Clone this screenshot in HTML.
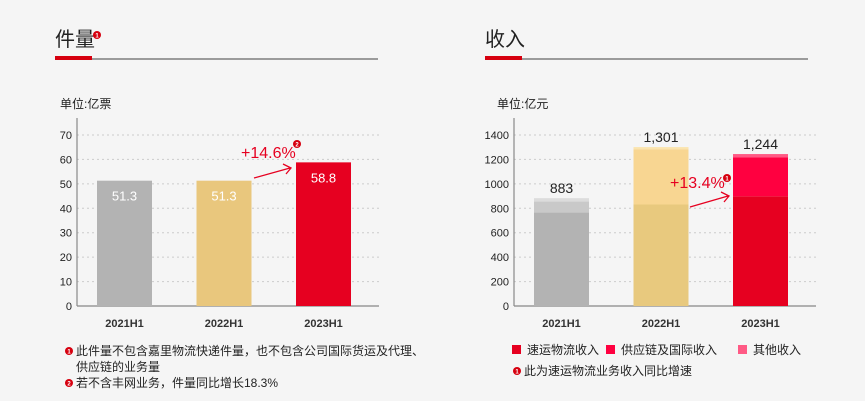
<!DOCTYPE html>
<html><head><meta charset="utf-8"><style>
body{margin:0;background:#fff;font-family:"Liberation Sans","Noto Sans CJK SC",sans-serif;}
#wrap{position:relative;width:865px;height:401px;background:#f5f5f5;overflow:hidden}
.t{position:absolute;white-space:nowrap}
</style></head><body>
<div id="wrap">
<svg id="svg" width="865" height="401" style="position:absolute;left:0;top:0"></svg>
</div>
<script>
const volCats=["2021H1","2022H1","2023H1"];
const volVals=[51.3,51.3,58.8];
const volTicks=[0,10,20,30,40,50,60,70];
const revCats=["2021H1","2022H1","2023H1"];
const revExpress=[765,831,898];
const revSupply=[90,453,320];
const revOther=[28,17,26];
const revTotals=["883","1,301","1,244"];
const revTicks=[0,200,400,600,800,1000,1200,1400];
const NS="http://www.w3.org/2000/svg";
const svg=document.getElementById('svg');
function mk(tag,a,txt){const e=document.createElementNS(NS,tag);for(const k in a)e.setAttribute(k,a[k]);if(txt!==undefined)e.textContent=txt;svg.appendChild(e);return e;}
const F='"Liberation Sans","Noto Sans CJK SC",sans-serif';
function header(x,label,n){
 let e=mk('text',{x:x,y:46,'font-size':20,fill:'#222','font-family':F},label);
 
 e=mk('line',{x1:x,y1:59,x2:x+323,y2:59,stroke:'#666','stroke-width':1.3});
 
 e=mk('rect',{x:x,y:56,width:37,height:4,fill:'#d6000f'});
 
}
function badge(cx,cy,n,name){const c=mk('circle',{cx:cx,cy:cy,r:4,fill:'#d6000f'});
 mk('text',{x:cx,y:cy+2.5,'font-size':6,fill:'#fff','text-anchor':'middle','font-weight':'bold','font-family':F},n);}
header(55,'件量','volume');badge(97,35,'1','volume-footnote-badge');
header(485,'收入','revenue');
function axes(ax,ticks,max,unit,n,cats,barX){
 const y0=306,yTop=135,sc=v=>y0-(y0-yTop)*v/max;
 let e=mk('text',{x:ax-17,y:108,'font-size':12,fill:'#222','font-family':F},unit);
 
 ticks.forEach(t=>{const y=sc(t);
  if(t>0){const g=mk('line',{x1:ax,y1:y,x2:ax+302,y2:y,stroke:'#ccc','stroke-dasharray':'2,3'});}
  const l=mk('text',{x:ax-5,y:y+4,'font-size':11,fill:'#222','text-anchor':'end','font-family':F},t);
  });
 e=mk('line',{x1:ax,y1:118,x2:ax,y2:y0,stroke:'#888','stroke-width':1.2});
 e=mk('line',{x1:ax,y1:y0,x2:ax+302,y2:y0,stroke:'#888','stroke-width':1.2});
 cats.forEach((c,i)=>{const l=mk('text',{x:barX(i)+27.5,y:327,'font-size':11,'font-weight':'bold',fill:'#333','text-anchor':'middle','font-family':F},c);
  });
 return sc;
}
// volume chart
const vx=i=>97+i*99.5;
const vs=axes(77,volTicks,70,'单位:亿票','volume',volCats,vx);
const vcol=['#b3b3b3','#e9c77d','#e60020'];
volVals.forEach((v,i)=>{const y=vs(v);
 const r=mk('rect',{x:vx(i),y:y,width:55,height:306-y,fill:vcol[i]});
 
 const t=mk('text',{x:vx(i)+27.5,y:y+20,'font-size':13,fill:'#fff','text-anchor':'middle','font-family':F},v.toFixed(1));
 });
let e=mk('text',{x:241,y:158,'font-size':16,fill:'#e60020','font-family':F},'+14.6%');

badge(297,144,'2','volume-growth-badge');
e=mk('path',{d:'M254,178 L290,168 M283,164 L291,168 L286,174',stroke:'#e60020','stroke-width':1.3,fill:'none'});

// revenue chart
const rx=i=>534+i*99.5;
const rs=axes(514,revTicks,1400,'单位:亿元','revenue',revCats,rx);
const cols=[['#b3b3b3','#c9c9c9','#dcdcdc'],['#e8c97e','#f8d692','#fbe4ae'],['#e60020','#ff0040','#ff5a85']];
revCats.forEach((c,i)=>{let base=0;
 [revExpress[i],revSupply[i],revOther[i]].forEach((v,k)=>{const y1=rs(base),y2=rs(base+v);
  const r=mk('rect',{x:rx(i),y:y2,width:55,height:y1-y2,fill:cols[i][k]});
  
  base+=v;});
 const t=mk('text',{x:rx(i)+27.5,y:rs(base)-5,'font-size':14,fill:'#222','text-anchor':'middle','font-family':F},revTotals[i]);
 });
e=mk('text',{x:670,y:188,'font-size':16,fill:'#e60020','font-family':F},'+13.4%');

badge(727,178,'1','revenue-growth-badge');
e=mk('path',{d:'M690,207 L728,196 M721,192 L729,196 L724,202',stroke:'#e60020','stroke-width':1.3,fill:'none'});

// legend
[['速运物流收入',512,'#e60020'],['供应链及国际收入',606,'#ff0040'],['其他收入',738,'#ff5a85']].forEach(([l,x,c])=>{
 const r=mk('rect',{x:x,y:345,width:9,height:9,fill:c});
 const t=mk('text',{x:x+15,y:354,'font-size':12,fill:'#222','font-family':F},l);});
badge(517,371,'1','revenue-footnote-badge');
e=mk('text',{x:524,y:375,'font-size':12,fill:'#222','font-family':F},'此为速运物流业务收入同比增速');
// left footnotes
badge(69,351,'1','volume-footnote-1-badge');
e=mk('text',{x:76,y:355,'font-size':12,fill:'#222','font-family':F},'此件量不包含嘉里物流快递件量，也不包含公司国际货运及代理、');
e=mk('text',{x:76,y:371,'font-size':12,fill:'#222','font-family':F},'供应链的业务量');
badge(69,383,'2','volume-footnote-2-badge');
e=mk('text',{x:76,y:387,'font-size':12,fill:'#222','font-family':F},'若不含丰网业务，件量同比增长18.3%');
</script>
</body></html>
